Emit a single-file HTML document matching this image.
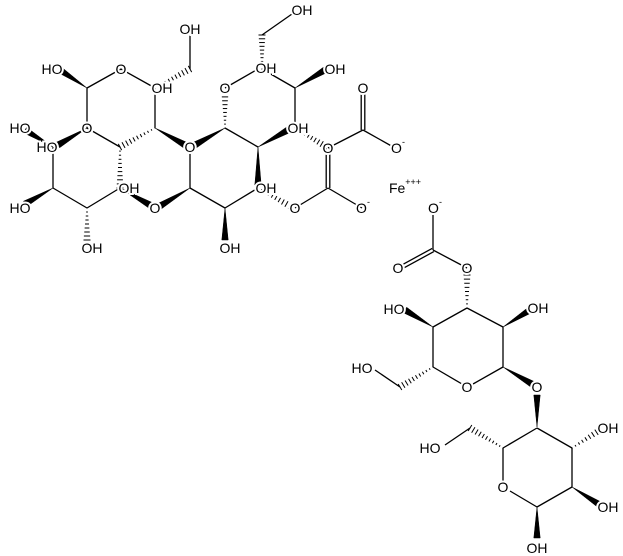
<!DOCTYPE html>
<html><head><meta charset="utf-8">
<style>
html,body{margin:0;padding:0;background:#fff;}
svg{display:block;}
text{font-family:"Liberation Sans",sans-serif;font-size:14px;fill:#000;text-anchor:middle;dominant-baseline:central;stroke:#fff;stroke-width:4px;paint-order:stroke;}
</style></head><body>
<svg id="s" width="623" height="556" viewBox="0 0 623 556" xmlns="http://www.w3.org/2000/svg">
<g id="b" stroke="#000" stroke-width="1.3" fill="#000"></g>
<g id="t">
<text x="190" y="29">OH</text>
<text x="302" y="10">OH</text>
<text x="52" y="69">HO</text>
<text x="121" y="69">O</text>
<text x="162" y="88">OH</text>
<text x="225" y="88">O</text>
<text x="266" y="68">OH</text>
<text x="335" y="69">OH</text>
<text x="20" y="128">HO</text>
<text x="87" y="128">O</text>
<text x="47" y="147">HO</text>
<text x="190" y="147">O</text>
<text x="298" y="128">OH</text>
<text x="328" y="148">O</text>
<text x="129" y="188">OH</text>
<text x="266" y="188">OH</text>
<text x="20" y="208">HO</text>
<text x="155" y="208">O</text>
<text x="295" y="208">O</text>
<text x="92" y="248">OH</text>
<text x="230" y="248">OH</text>
<text x="363" y="88">O</text>
<text x="398" y="148">O<tspan dy="-6" font-size="9">-</tspan></text>
<text x="363" y="208">O<tspan dy="-6" font-size="9">-</tspan></text>
<text x="405" y="188">Fe<tspan dy="-6" font-size="9">+++</tspan></text>
<text x="435" y="208">O<tspan dy="-6" font-size="9">-</tspan></text>
<text x="398" y="268">O</text>
<text x="467" y="268">O</text>
<text x="394" y="309">HO</text>
<text x="538" y="308">OH</text>
<text x="362" y="368">HO</text>
<text x="467" y="387">O</text>
<text x="537" y="387">O</text>
<text x="608" y="428">OH</text>
<text x="430" y="448">HO</text>
<text x="503" y="487">O</text>
<text x="608" y="507">OH</text>
<text x="537" y="548">OH</text>
</g>
</svg>
<script>
var B=[
[87,88,60,70,'w'],[87,88,121,69,'l'],[121,69,155,88,'l'],[87,88,87,128,'l'],
[155,88,190,69,'h'],[190,69,190,35,'l'],[155,88,155,128,'l'],[155,128,185,145,'w'],
[155,128,120,147,'h'],[87,128,120,147,'l'],[87,128,58,145,'w'],[53,147,25,130,'w'],
[53,147,53,188,'l'],[53,188,25,204,'w'],[53,188,87,208,'l'],[87,208,120,188,'l'],
[87,208,87,240,'h'],[120,147,120,188,'h'],[120,188,150,205,'w'],[190,188,160,206,'w'],
[190,188,190,153,'l'],[190,188,225,208,'l'],[225,208,225,240,'w'],[225,208,258,188,'l'],
[225,128,195,145,'w'],[225,128,225,93,'h'],[225,128,258,147,'l'],[258,147,258,185,'w'],
[258,147,288,130,'w'],[258,188,290,206,'h'],[225,88,258,69,'l'],[262,69,262,35,'h'],
[262,35,292,14,'l'],[262,69,295,88,'l'],[295,88,325,70,'w'],[295,88,295,128,'l'],
[295,128,325,146,'h'],[328,148,363,130,'l'],[363,130,363,94,'d'],[363,130,395,148,'l'],
[328,148,328,188,'d'],[328,188,295,208,'l'],[328,188,362,208,'l'],
[433,215,433,250,'l'],[433,250,400,268,'d'],[433,250,467,268,'l'],
[467,308,467,275,'h'],[467,308,433,327,'l'],[467,308,503,327,'l'],
[433,327,405,310,'w'],[503,327,530,310,'w'],[433,327,433,367,'l'],[503,327,503,367,'l'],
[433,367,462,384,'l'],[503,367,473,384,'l'],[433,367,400,387,'h'],[400,387,375,370,'l'],
[503,367,532,384,'w'],[537,427,537,395,'w'],[537,428,503,448,'l'],[537,428,572,448,'l'],
[572,448,600,430,'h'],[503,448,470,428,'h'],[470,428,445,445,'l'],[503,448,503,482,'l'],
[572,448,572,487,'l'],[510,491,537,507,'l'],[537,507,572,487,'l'],[572,487,600,505,'w'],
[537,507,537,538,'w']
];
var g=document.getElementById('b'),o='';
B.forEach(function(b){
var x1=b[0],y1=b[1],x2=b[2],y2=b[3],t=b[4];
var dx=x2-x1,dy=y2-y1,L=Math.sqrt(dx*dx+dy*dy),px=-dy/L,py=dx/L;
if(t=='l'){o+='<line x1="'+x1+'" y1="'+y1+'" x2="'+x2+'" y2="'+y2+'"/>';}
else if(t=='d'){var s=1.8;
o+='<line x1="'+(x1+px*s)+'" y1="'+(y1+py*s)+'" x2="'+(x2+px*s)+'" y2="'+(y2+py*s)+'"/>';
o+='<line x1="'+(x1-px*s)+'" y1="'+(y1-py*s)+'" x2="'+(x2-px*s)+'" y2="'+(y2-py*s)+'"/>';}
else if(t=='w'){var w=3.2;
o+='<polygon stroke-width="0.5" points="'+x1+','+y1+' '+(x2+px*w)+','+(y2+py*w)+' '+(x2-px*w)+','+(y2-py*w)+'"/>';}
else if(t=='h'){var n=Math.max(5,Math.round(L/4));
for(var i=0;i<=n;i++){var f=i/n,cx=x1+dx*f,cy=y1+dy*f,w=0.5+3*f;
o+='<line stroke-width="1" x1="'+(cx+px*w)+'" y1="'+(cy+py*w)+'" x2="'+(cx-px*w)+'" y2="'+(cy-py*w)+'"/>';}}
});
g.innerHTML=o;
</script>
</body></html>
